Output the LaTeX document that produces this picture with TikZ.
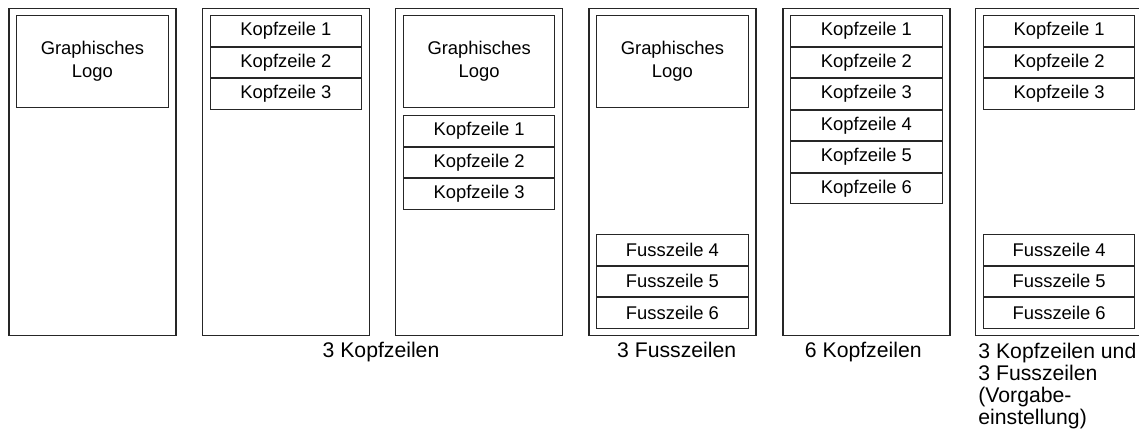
\documentclass[tikz,border=0pt]{standalone}
\usepackage{fontspec}
\setmainfont{Liberation Sans}
\usetikzlibrary{positioning}
\tikzset{
  panel/.style={draw=black!85, line width=0.65pt, minimum width=83.5pt, minimum height=163.75pt, inner sep=0pt, anchor=north west},
  logobox/.style={draw=black!85, line width=0.5pt, minimum width=75.75pt, minimum height=45.85pt, inner sep=0pt, align=center, font=\fontsize{9.2}{11.5}\selectfont},
  zeile/.style={draw=black!85, line width=0.5pt, minimum width=75.75pt, minimum height=15.25pt, inner sep=0pt, font=\fontsize{9.2}{11}\selectfont},
  caption/.style={font=\fontsize{10.6}{10.9}\selectfont, inner sep=0pt}
}
\begin{document}
\begin{tikzpicture}[x=0.5pt, y=-0.5pt]
\useasboundingbox (0,0) rectangle (1139,428);

\node[panel] (p1) at (8.3,7.5) {};
\node[panel] (p2) at (201.7,7.5) {};
\node[panel] (p3) at (395,7.5) {};
\node[panel] (p4) at (588.3,7.5) {};
\node[panel] (p5) at (782.3,7.5) {};
\node[panel] (p6) at (975,7.5) {};

\node[logobox, below=3.75pt of p1.north] (logo1) {Graphisches\\Logo};

\node[zeile, below=3.75pt of p2.north] (k21) {Kopfzeile 1};
\node[zeile, below=0pt of k21] (k22) {Kopfzeile 2};
\node[zeile, below=0pt of k22] (k23) {Kopfzeile 3};

\node[logobox, below=3.75pt of p3.north] (logo3) {Graphisches\\Logo};
\node[zeile, below=3.65pt of logo3] (k31) {Kopfzeile 1};
\node[zeile, below=0pt of k31] (k32) {Kopfzeile 2};
\node[zeile, below=0pt of k32] (k33) {Kopfzeile 3};

\node[logobox, below=3.75pt of p4.north] (logo4) {Graphisches\\Logo};
\node[zeile, above=3.85pt of p4.south] (f46) {Fusszeile 6};
\node[zeile, above=0pt of f46] (f45) {Fusszeile 5};
\node[zeile, above=0pt of f45] (f44) {Fusszeile 4};

\node[zeile, below=3.75pt of p5.north] (k51) {Kopfzeile 1};
\node[zeile, below=0pt of k51] (k52) {Kopfzeile 2};
\node[zeile, below=0pt of k52] (k53) {Kopfzeile 3};
\node[zeile, below=0pt of k53] (k54) {Kopfzeile 4};
\node[zeile, below=0pt of k54] (k55) {Kopfzeile 5};
\node[zeile, below=0pt of k55] (k56) {Kopfzeile 6};

\node[zeile, below=3.75pt of p6.north] (k61) {Kopfzeile 1};
\node[zeile, below=0pt of k61] (k62) {Kopfzeile 2};
\node[zeile, below=0pt of k62] (k63) {Kopfzeile 3};
\node[zeile, above=3.85pt of p6.south] (f66) {Fusszeile 6};
\node[zeile, above=0pt of f66] (f65) {Fusszeile 5};
\node[zeile, above=0pt of f65] (f64) {Fusszeile 4};

\node[caption, anchor=base] (cap23) at (381,357) {3 Kopfzeilen};
\node[caption, anchor=base] (cap4) at (676.7,357) {3 Fusszeilen};
\node[caption, anchor=base] (cap5) at (863.3,357) {6 Kopfzeilen};
\node[caption, anchor=north west, align=left] (cap6) at (978,343) {3 Kopfzeilen und\\3 Fusszeilen\\(Vorgabe-\\einstellung)};
\end{tikzpicture}
\end{document}
